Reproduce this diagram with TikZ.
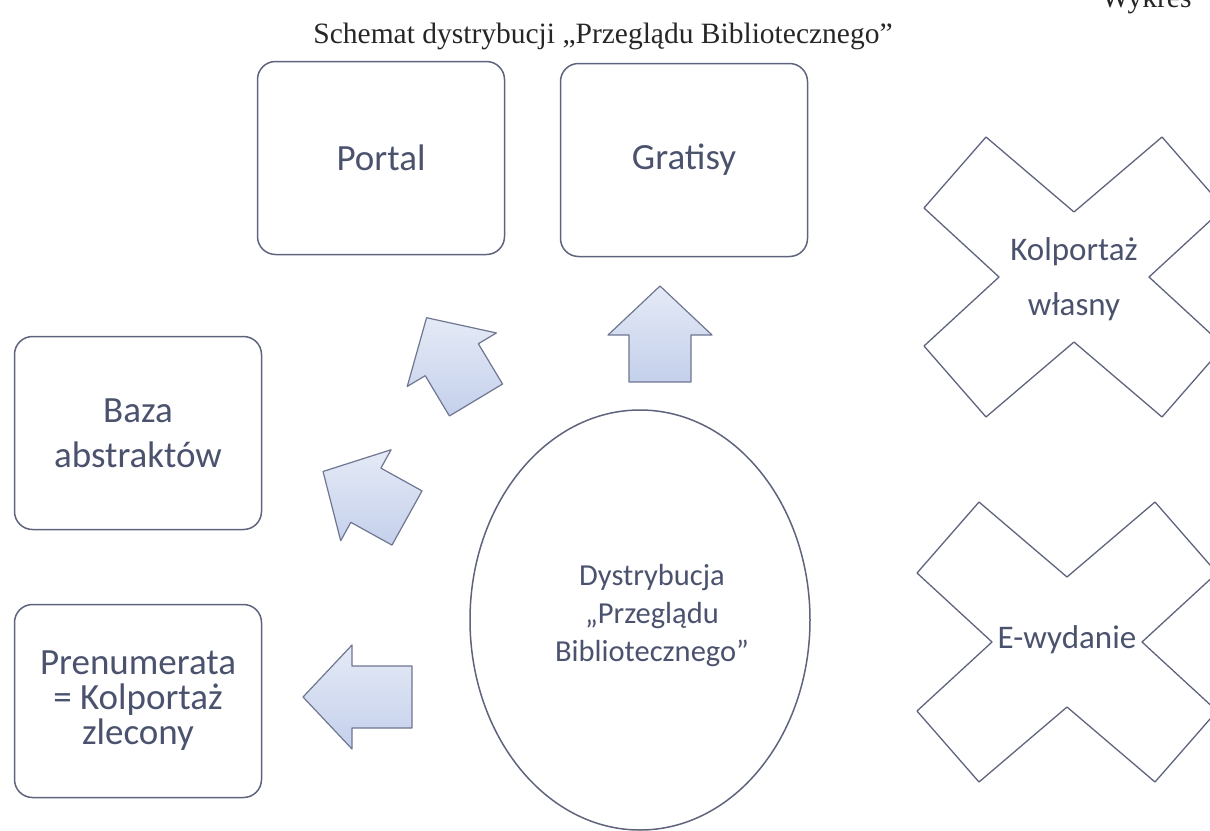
\documentclass[tikz,border=0pt]{standalone}
\usepackage{fontspec}
\setmainfont{Carlito}
\newfontfamily\titlefont{Liberation Serif}
\usetikzlibrary{shapes.geometric}

\definecolor{edgegray}{RGB}{95,100,125}
\definecolor{textgray}{RGB}{75,82,110}
\definecolor{arrowfill}{RGB}{196,208,235}
\definecolor{arrowline}{RGB}{110,118,145}

\begin{document}
\begin{tikzpicture}[
        x=1pt, y=-1pt,
        box/.style={draw=edgegray, line width=1.5pt, rounded corners=18pt,
            minimum width=247pt, minimum height=193pt, align=center,
            text=textgray, font=\fontsize{37}{35}\selectfont},
        oval/.style={draw=edgegray, ellipse, line width=1.5pt,
            minimum width=340pt, minimum height=420pt, align=center,
            text=textgray, font=\fontsize{30.5}{38}\selectfont},
        crosstext/.style={align=center, text=textgray, font=\fontsize{33}{55}\selectfont},
        heading/.style={text=black!85, font=\titlefont\fontsize{29.5}{32}\selectfont},
        xline/.style={draw=edgegray, line width=1.3pt, line join=round},
        arrowbody/.style={draw=arrowline, line width=1.2pt, line join=round,
            top color=arrowfill!45!white, bottom color=arrowfill},
        pics/blockarrow/.style={code={
            \draw[arrowbody] (0,-31) -- (#1,-31) -- (#1,-52) -- ({#1+49},0)
                -- (#1,52) -- (#1,31) -- (0,31) -- cycle;
        }},
        pics/xmark/.style={code={
            \draw[xline] (0,-65) -- (88,-140) -- (150,-69) -- (75,0) -- (150,69)
                -- (88,140) -- (0,65) -- (-88,140) -- (-150,69) -- (-75,0)
                -- (-150,-69) -- (-88,-140) -- cycle;
        }},
    ]
    \useasboundingbox (0,0) rectangle (1210,830);

    % heading
    \node[heading, anchor=base] (title) at (603,43)
        {Schemat dystrybucji „Przeglądu Bibliotecznego”};
    \node[heading, anchor=base west] (wykres) at (1098,7) {Wykres};

    % channels
    \node[box] (portal) at (381,158) {Portal};
    \node[box] (gratisy) at (684,160) {Gratisy};
    \node[box] (baza) at (138,433) {Baza\\[10pt]abstraktów};
    \node[box] (prenum) at (138,701) {Prenumerata\\= Kolportaż\\zlecony};

    % centre
    \node[oval] (dystr) at (640,620) {};
    \node[align=center, text=textgray, font=\fontsize{30.5}{38}\selectfont]
        (dystrtxt) at (652,616) {Dystrybucja\\„Przeglądu\\Bibliotecznego”};

    % arrows out of the centre
    \pic[rotate=90] at (660,382) {blockarrow=47};
    \pic[rotate=121] at (476,400) {blockarrow=47};
    \pic[rotate=151] at (407,518) {blockarrow=47};
    \pic[rotate=180] at (412,697) {blockarrow=60};

    % crossed out channels
    \pic at (1074,277) {xmark};
    \node[crosstext] (wlasny) at (1074,279) {Kolportaż\\własny};
    \pic at (1067,642) {xmark};
    \node[crosstext] (ewyd) at (1067,640) {E-wydanie};

\end{tikzpicture}
\end{document}
